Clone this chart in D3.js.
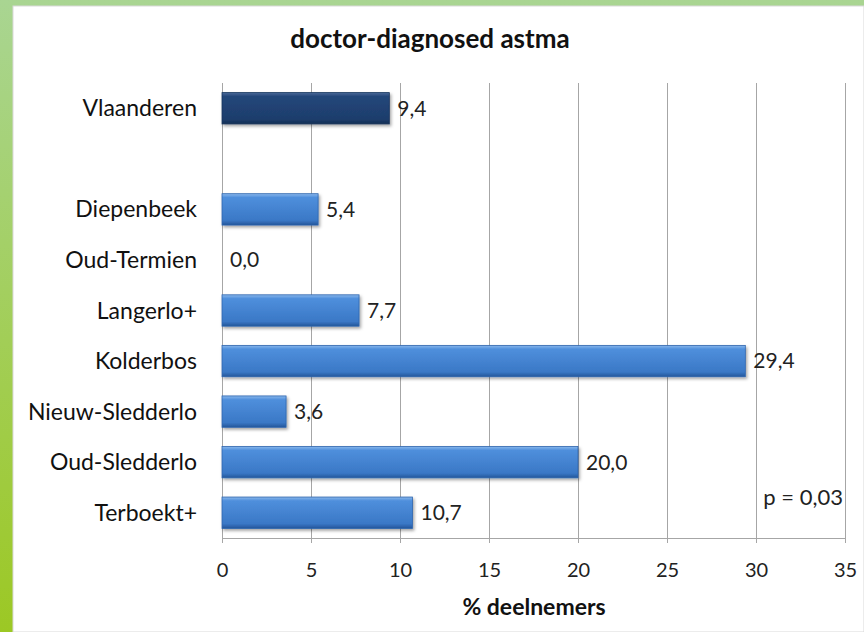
<!DOCTYPE html>
<html>
<head>
<meta charset="utf-8">
<script src="https://cdn.jsdelivr.net/npm/d3@7"></script>
<style>
  body { margin: 0; }
  svg { display: block; }
</style>
</head>
<body>
<div id="chart"></div>
<script>
const categories = ['Vlaanderen', ' ', 'Diepenbeek', 'Oud-Termien', 'Langerlo+', 'Kolderbos', 'Nieuw-Sledderlo', 'Oud-Sledderlo', 'Terboekt+'];
const values = [9.4, null, 5.4, 0.0, 7.7, 29.4, 3.6, 20.0, 10.7];
const xTicks = [0, 5, 10, 15, 20, 25, 30, 35];
const titleText = 'doctor-diagnosed astma';
const axisTitle = '% deelnemers';
const pText = 'p = 0,03';

const width = 864, height = 632;
const font = 'Lato, Open Sans, sans-serif';
const margin = { top: 83, left: 222, right: 19, bottom: 94 };

const svg = d3.select('#chart').append('svg')
  .attr('width', width)
  .attr('height', height);

const defs = svg.append('defs');

// green frame
const frameGrad = defs.append('linearGradient')
  .attr('id', 'frame').attr('x1', 0).attr('y1', 0).attr('x2', 0).attr('y2', 1);
frameGrad.append('stop').attr('offset', '0%').attr('stop-color', '#a9d592');
frameGrad.append('stop').attr('offset', '100%').attr('stop-color', '#9cc824');

// bar gradients
const makeBarGrad = (id, top, mid, bottom, edge) => {
  const g = defs.append('linearGradient')
    .attr('id', id).attr('x1', 0).attr('y1', 0).attr('x2', 0).attr('y2', 1);
  g.append('stop').attr('offset', '0%').attr('stop-color', top);
  g.append('stop').attr('offset', '12%').attr('stop-color', mid);
  g.append('stop').attr('offset', '85%').attr('stop-color', bottom);
  g.append('stop').attr('offset', '100%').attr('stop-color', edge);
};
makeBarGrad('barBlue', '#8ab8ec', '#4f8fdc', '#3a78c6', '#24569a');
makeBarGrad('barDark', '#4a6a98', '#24477a', '#1d3d6c', '#152f55');

const shadow = defs.append('filter').attr('id', 'shadow')
  .attr('x', '-5%').attr('y', '-20%').attr('width', '115%').attr('height', '160%');
shadow.append('feDropShadow')
  .attr('dx', 1.5).attr('dy', 2).attr('stdDeviation', 1.5)
  .attr('flood-color', '#000').attr('flood-opacity', 0.35);

svg.append('rect').attr('width', width).attr('height', height).attr('fill', 'url(#frame)');
svg.append('rect')
  .attr('x', 13).attr('y', 6)
  .attr('width', width - 13).attr('height', height - 6)
  .attr('fill', '#fff')
  .attr('stroke', '#d9d9d9');

const x = d3.scaleLinear()
  .domain([0, 35])
  .range([margin.left, width - margin.right]);

const y = d3.scaleBand()
  .domain(categories)
  .range([margin.top, height - margin.bottom])
  .paddingInner(0.38)
  .paddingOuter(0.19);

// gridlines
svg.append('g')
  .selectAll('line')
  .data(xTicks)
  .join('line')
  .attr('x1', d => x(d)).attr('x2', d => x(d))
  .attr('y1', margin.top).attr('y2', height - margin.bottom)
  .attr('stroke', '#a6a6a6').attr('stroke-width', 1)
  .attr('shape-rendering', 'crispEdges');

// x axis
const xAxis = svg.append('g')
  .attr('transform', `translate(0,${height - margin.bottom})`)
  .call(d3.axisBottom(x).tickValues(xTicks).tickSize(5).tickPadding(20).tickSizeOuter(0));
xAxis.select('.domain').attr('stroke', '#a6a6a6');
xAxis.selectAll('.tick line').attr('stroke', '#a6a6a6');
xAxis.selectAll('text')
  .attr('font-family', font).attr('font-size', 20).attr('fill', '#222');

// category labels
svg.append('g')
  .selectAll('text')
  .data(categories)
  .join('text')
  .attr('x', margin.left - 25)
  .attr('y', d => y(d) + y.bandwidth() / 2)
  .attr('dy', '0.35em')
  .attr('text-anchor', 'end')
  .attr('font-family', font).attr('font-size', 23).attr('fill', '#111')
  .text(d => d.trim());

// bars
const barData = categories.map((c, i) => ({ c, v: values[i], i }))
  .filter(d => d.v !== null);

svg.append('g')
  .selectAll('rect')
  .data(barData.filter(d => d.v > 0))
  .join('rect')
  .attr('x', x(0))
  .attr('y', d => y(d.c))
  .attr('width', d => x(d.v) - x(0))
  .attr('height', y.bandwidth())
  .attr('fill', d => d.i === 0 ? 'url(#barDark)' : 'url(#barBlue)')
  .attr('stroke', d => d.i === 0 ? '#17345c' : '#2d64ad')
  .attr('stroke-width', 0.8)
  .attr('filter', 'url(#shadow)');

// value labels
svg.append('g')
  .selectAll('text')
  .data(barData)
  .join('text')
  .attr('x', d => x(d.v) + 8)
  .attr('y', d => y(d.c) + y.bandwidth() / 2)
  .attr('dy', '0.35em')
  .attr('font-family', font).attr('font-size', 21).attr('fill', '#222')
  .text(d => d3.format('.1f')(d.v).replace('.', ','));

// title
svg.append('text')
  .attr('x', 430).attr('y', 48)
  .attr('text-anchor', 'middle')
  .attr('font-family', font).attr('font-size', 26).attr('font-weight', 'bold')
  .attr('fill', '#111')
  .text(titleText);

// axis title
svg.append('text')
  .attr('x', 534).attr('y', 615)
  .attr('text-anchor', 'middle')
  .attr('font-family', font).attr('font-size', 23).attr('font-weight', 'bold')
  .attr('fill', '#111')
  .text(axisTitle);

// p value
svg.append('text')
  .attr('x', 843).attr('y', 497)
  .attr('dy', '0.35em')
  .attr('text-anchor', 'end')
  .attr('font-family', font).attr('font-size', 22).attr('fill', '#222')
  .text(pText);
</script>
</body>
</html>
